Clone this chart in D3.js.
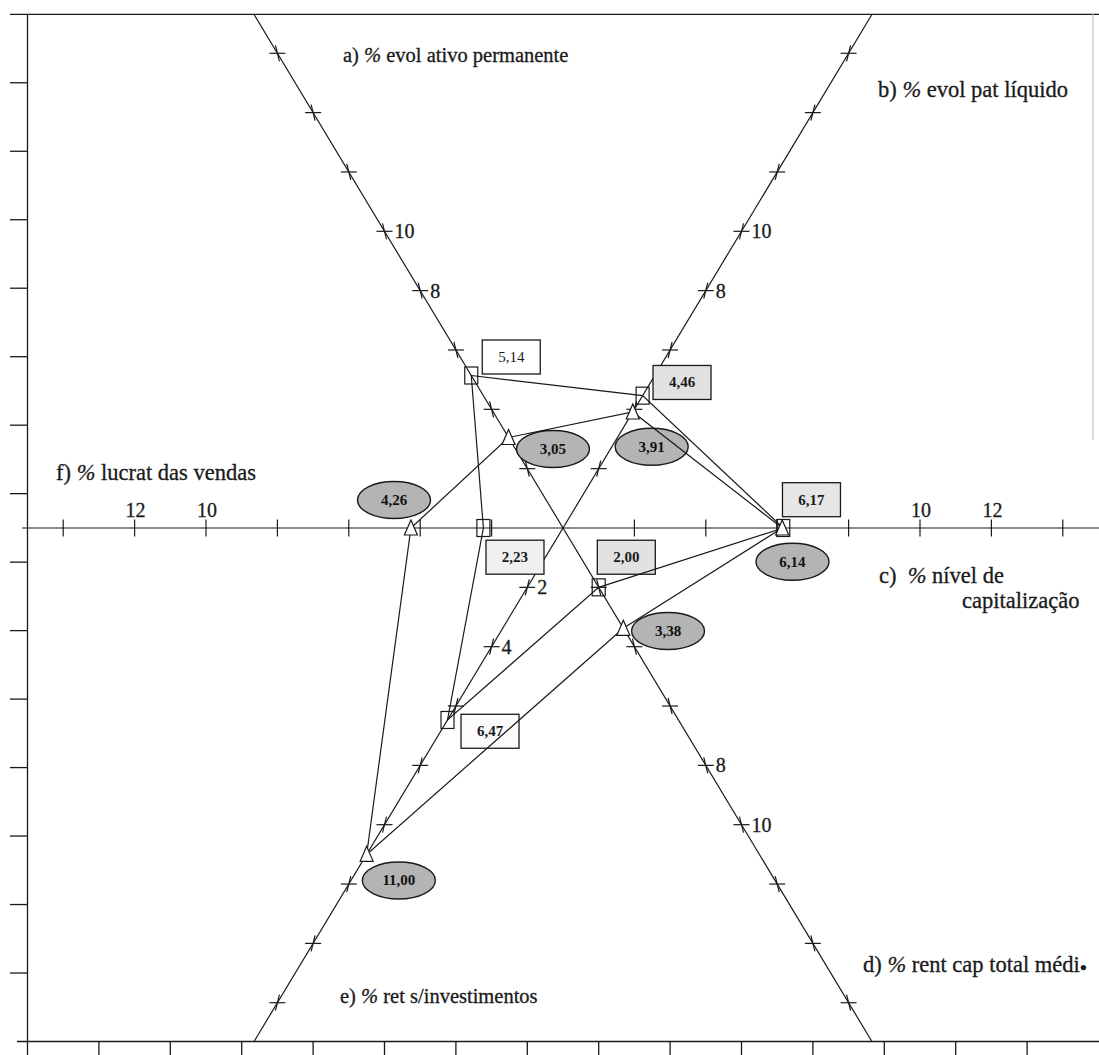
<!DOCTYPE html>
<html><head><meta charset="utf-8">
<script src="https://cdn.jsdelivr.net/npm/d3@7/dist/d3.min.js"></script>
<style>body{margin:0;background:#fff}</style>
</head><body>
<svg id="chart" width="1099" height="1055"></svg>
<script>
// ---------- DATA ----------
const axisKeys = ["a", "b", "c", "d", "e", "f"];
const axisTitles = [
  ["a) % evol ativo permanente"],
  ["b) % evol pat líquido"],
  ["c)  % nível de", "capitalização"],
  ["d) % rent cap total médi●"],
  ["e) % ret s/investimentos"],
  ["f) % lucrat das vendas"]
];
const squareValues   = [5.14, 4.46, 6.17, 2.00, 6.47, 2.23];
const triangleValues = [3.05, 3.91, 6.14, 3.38, 11.00, 4.26];
const horizontalTicks = [2, 4, 6, 8, 10, 12, 14];
const diagonalTicks   = [2, 4, 6, 8, 10, 12, 14, 16];
const tickLabels = { a: [8, 10], b: [8, 10], c: [10, 12], d: [8, 10], e: [2, 4], f: [10, 12] };
const frameTicks = [-13, -11, -9, -7, -5, -3, -1, 1, 3, 5, 7, 9, 11, 13];

// ---------- LAYOUT ----------
const W = 1099, H = 1055, CX = 563, CY = 528;
const TOP = 14.3, BOTTOM = 1041.5;
const serif = "'Liberation Serif','Times New Roman',serif";
const rH  = d3.scaleLinear().domain([0, 15]).range([0, 15 * 35.7]);
const rDx = d3.scaleLinear().domain([0, 16]).range([0, 16 * 17.85]);
const rDy = d3.scaleLinear().domain([0, 16]).range([0, 16 * 29.67]);
const fx = d3.scaleLinear().domain([-15, 15]).range([CX - rH(15), CX + rH(15)]);
const fy = d3.scaleLinear().domain([-15, 15]).range([TOP, BOTTOM]);
const dirs = { a: [-1, -1, "d"], b: [1, -1, "d"], c: [1, 0, "h"], d: [1, 1, "d"], e: [-1, 1, "d"], f: [-1, 0, "h"] };
function pt(k, v) {
  const [sx, sy, t] = dirs[k];
  if (t === "h") return [CX + sx * rH(v), CY];
  return [CX + sx * rDx(v), CY + sy * rDy(v)];
}
const titlePos = [
  [[343, 62]], [[878, 96.5]], [[879, 583], [962, 608]],
  [[863, 972]], [[340, 1003]], [[56, 480]]
];
const titleSize = [20.5, 22.5, 22.5, 22.5, 20.5, 22.5];
const squareLabelOff   = [[40, -18.5], [39.4, -13.2], [28.2, -28.3], [27.6, -30.1], [42.5, 11.3], [31.6, 29.2]];
const squareLabelFill  = ["#ffffff", "#e2e2e2", "#e6e6e6", "#e2e2e2", "#fbfbfb", "#f0f0f0"];
const triangleLabelOff = [[44.4, 11.5], [18.9, 34.7], [10.3, 33.7], [44.7, 2.7], [32.2, 26.1], [-16.9, -28]];
const fmt = v => d3.format(".2f")(v).replace(".", ",");

const svg = d3.select("#chart");
const ink = "#1a1a1a";

// ---------- FRAME ----------
const frame = svg.append("g").attr("stroke", ink).attr("stroke-width", 1.3).attr("fill", "none");
frame.append("line").attr("x1", 10).attr("x2", W).attr("y1", TOP).attr("y2", TOP);
frame.append("line").attr("x1", 17).attr("x2", W).attr("y1", BOTTOM).attr("y2", BOTTOM);
frame.append("line").attr("x1", fx(-15)).attr("x2", fx(-15)).attr("y1", TOP).attr("y2", H);
frame.append("line").attr("x1", 1093).attr("x2", 1093).attr("y1", TOP).attr("y2", 440).attr("stroke", "#c8c8c8");
frame.selectAll(".lt").data(frameTicks).join("line")
  .attr("x1", 10).attr("x2", fx(-15)).attr("y1", d => fy(d)).attr("y2", d => fy(d));
frame.selectAll(".bt").data(frameTicks).join("line")
  .attr("x1", d => fx(d)).attr("x2", d => fx(d)).attr("y1", BOTTOM).attr("y2", H);

// ---------- AXES ----------
const axes = svg.append("g").attr("stroke", ink).attr("stroke-width", 1.2).attr("fill", "none");
axes.append("line").attr("x1", 22).attr("x2", W).attr("y1", CY).attr("y2", CY);
const vTop = rDy.invert(CY - TOP), vBot = rDy.invert(BOTTOM - CY);
[["a", "d"], ["b", "e"]].forEach(([k1, k2]) => {
  const p1 = pt(k1, vTop), p2 = pt(k2, vBot);
  axes.append("line").attr("x1", p1[0]).attr("y1", p1[1]).attr("x2", p2[0]).attr("y2", p2[1]);
});
["c", "f"].forEach(k => {
  axes.selectAll(null).data(horizontalTicks).join("line")
    .attr("x1", d => pt(k, d)[0]).attr("x2", d => pt(k, d)[0])
    .attr("y1", CY - 8.5).attr("y2", CY + 8.5);
});
["a", "b", "d", "e"].forEach(k => {
  const g = axes.selectAll(null).data(diagonalTicks).join("g")
    .attr("transform", d => `translate(${pt(k, d)})`);
  g.append("line").attr("x1", -8).attr("x2", 8).attr("y1", 0).attr("y2", 0);
  g.append("line").attr("x1", dirs[k][0] * dirs[k][1] * -2).attr("x2", dirs[k][0] * dirs[k][1] * 2)
    .attr("y1", -8).attr("y2", 8);
});

// tick labels
const tl = svg.append("g").attr("font-family", serif).attr("font-size", 20).attr("fill", ink)
  .attr("stroke", ink).attr("stroke-width", 0.3);
axisKeys.forEach(k => {
  const horiz = dirs[k][2] === "h";
  tl.selectAll(null).data(tickLabels[k]).join("text")
    .attr("x", d => pt(k, d)[0] + (horiz ? 1 : 10))
    .attr("y", d => pt(k, d)[1] + (horiz ? -11 : 7))
    .attr("text-anchor", horiz ? "middle" : "start")
    .text(d => d);
});

// axis titles
const tt = svg.append("g").attr("font-family", serif).attr("fill", ink)
  .attr("stroke", ink).attr("stroke-width", 0.3);
axisTitles.forEach((lines, i) => {
  lines.forEach((line, j) => {
    const [x, y] = titlePos[i][j];
    const t = tt.append("text").attr("x", x).attr("y", y).attr("font-size", titleSize[i])
      .attr("xml:space", "preserve");
    const parts = line.split("%");
    if (parts.length > 1) {
      t.append("tspan").text(parts[0]);
      t.append("tspan").attr("font-style", "italic").text("%");
      const rest = parts[1];
      if (rest.endsWith("●")) {
        t.append("tspan").text(rest.slice(0, -1));
        t.append("tspan").attr("font-size", 12).attr("dy", -1).text("●");
      } else t.append("tspan").text(rest);
    } else t.text(line);
  });
});

// ---------- LABELS ----------
const labels = svg.append("g");
squareValues.forEach((v, i) => {
  const p = pt(axisKeys[i], v), o = squareLabelOff[i];
  const cx = p[0] + o[0], cy = p[1] + o[1];
  labels.append("rect").attr("x", cx - 29).attr("y", cy - 17).attr("width", 58).attr("height", 34)
    .attr("fill", squareLabelFill[i]).attr("stroke", ink).attr("stroke-width", 1.3);
  labels.append("text").attr("x", cx).attr("y", cy + 5).attr("text-anchor", "middle")
    .attr("font-family", serif).attr("font-size", 15).attr("font-weight", i === 0 ? "normal" : "bold")
    .attr("fill", ink).text(fmt(v));
});
triangleValues.forEach((v, i) => {
  const p = pt(axisKeys[i], v), o = triangleLabelOff[i];
  const cx = p[0] + o[0], cy = p[1] + o[1];
  labels.append("ellipse").attr("cx", cx).attr("cy", cy).attr("rx", 36.5).attr("ry", 18.5)
    .attr("fill", "#b4b4b4").attr("stroke", ink).attr("stroke-width", 1.4);
  labels.append("text").attr("x", cx).attr("y", cy + 5).attr("text-anchor", "middle")
    .attr("font-family", serif).attr("font-size", 15).attr("font-weight", "bold")
    .attr("fill", "#111").text(fmt(v));
});

// ---------- SERIES ----------
const line = d3.line().curve(d3.curveLinearClosed);
const series = svg.append("g").attr("fill", "none").attr("stroke", ink).attr("stroke-width", 1.2);
series.append("path").attr("d", line(squareValues.map((v, i) => pt(axisKeys[i], v))));
series.append("path").attr("d", line(triangleValues.map((v, i) => pt(axisKeys[i], v))));

const markers = svg.append("g").attr("fill", "none").attr("stroke", ink).attr("stroke-width", 1.2);
markers.selectAll(".sq").data(squareValues).join("rect")
  .attr("x", (v, i) => pt(axisKeys[i], v)[0] - 6.5).attr("y", (v, i) => pt(axisKeys[i], v)[1] - 8.5)
  .attr("width", 13).attr("height", 17);
markers.selectAll(".tr").data(triangleValues).join("path")
  .attr("transform", (v, i) => `translate(${pt(axisKeys[i], v)})`)
  .attr("d", "M0,-8L6.5,7L-6.5,7Z").attr("fill", "#fff");
</script>
</body></html>
